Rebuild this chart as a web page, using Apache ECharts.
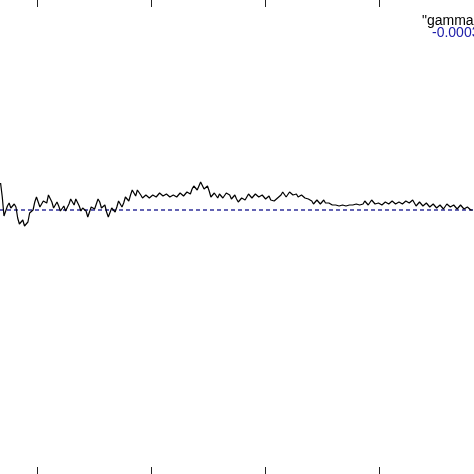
<!DOCTYPE html>
<html><head><meta charset="utf-8">
<script src="https://cdn.jsdelivr.net/npm/echarts@6/dist/echarts.min.js"></script>
<style>html,body{margin:0;padding:0;background:#fff}#c{width:474px;height:474px}</style>
</head><body><div id="c"></div>
<script>
// iterations: start and step of the sampled estimate
const xStart = 68, xStep = 1.5;
const gammaValues = [
0.0024,0.0010,-0.0009,-0.0008,0.0001,0.0004,-0.0001,-0.0003,0.0003,0.0000,
-0.0011,-0.0017,-0.0015,-0.0013,-0.0019,-0.0021,-0.0015,-0.0006,-0.0004,-0.0003,
0.0005,0.0010,0.0008,0.0000,0.0001,0.0006,0.0004,0.0004,0.0012,0.0012,
0.0005,-0.0001,0.0001,0.0005,0.0001,-0.0004,-0.0002,0.0001,-0.0004,-0.0004,
0.0003,0.0008,0.0005,0.0002,0.0008,0.0008,0.0001,-0.0004,-0.0001,0.0001,
-0.0004,-0.0010,-0.0008,0.0000,0.0001,-0.0002,0.0003,0.0008,0.0005,-0.0001,
0.0001,0.0002,-0.0005,-0.0010,-0.0008,-0.0001,-0.0002,-0.0005,0.0000,0.0006,
0.0004,0.0000,0.0004,0.0010,0.0008,0.0006,0.0012,0.0017,0.0014,0.0011,
0.0017,0.0016,0.0012,0.0009,0.0009,0.0012,0.0011,0.0009,0.0010,0.0012,
0.0011,0.0010,0.0012,0.0014,0.0012,0.0011,0.0012,0.0013,0.0013,0.0010,
0.0009,0.0012,0.0012,0.0010,0.0011,0.0014,0.0014,0.0011,0.0012,0.0015,
0.0014,0.0013,0.0018,0.0021,0.0019,0.0017,0.0021,0.0025,0.0023,0.0018,
0.0020,0.0021,0.0016,0.0010,0.0010,0.0014,0.0012,0.0009,0.0013,0.0014,
0.0009,0.0008,0.0014,0.0016,0.0012,0.0008,0.0010,0.0012,0.0008,0.0005,
0.0007,0.0009,0.0009,0.0007,0.0010,0.0013,0.0011,0.0009,0.0010,0.0013,
0.0012,0.0010,0.0010,0.0012,0.0010,0.0008,0.0010,0.0011,0.0007,0.0005,
0.0006,0.0008,0.0009,0.0010,0.0012,0.0015,0.0013,0.0010,0.0011,0.0015,
0.0014,0.0012,0.0012,0.0013,0.0010,0.0009,0.0012,0.0013,0.0009,0.0007,
0.0008,0.0009,0.0006,0.0003,0.0004,0.0007,0.0005,0.0003,0.0005,0.0007,
0.0004,0.0002,0.0004,0.0005,0.0002,0.0000,0.0002,0.0004,0.0001,-0.0001,
0.0002,0.0004,0.0001,0.0000,0.0002,0.0004,0.0002,0.0001,0.0003,0.0005,
0.0002,0.0001,0.0003,0.0006,0.0004,0.0002,0.0004,0.0007,0.0006,0.0003,
0.0003,0.0004,0.0003,0.0002,0.0003,0.0005,0.0004,0.0003,0.0004,0.0006,
0.0005,0.0003,0.0004,0.0005,0.0004,0.0003,0.0005,0.0006,0.0005,0.0004,
0.0005,0.0007,0.0004,0.0001,0.0003,0.0005,0.0003,0.0001,0.0003,0.0004,
0.0002,0.0000,0.0002,0.0003,0.0001,-0.0001,0.0001,0.0002,0.0000,-0.0002,
0.0000,0.0003,0.0002,0.0000,0.0001,0.0002,0.0000,-0.0002,0.0000,0.0002,
0.0000,-0.0002,-0.0001,0.0000,-0.0002,-0.0003,-0.0003
];
const refValue = -0.0003;
const xTicks = [100, 200, 300, 400];
const xRange = [67.5, 483.3];
const yRange = [-0.0267, 0.0207];
const legendLabels = ['"gamma_est"', '-0.000300'];

const gammaData = gammaValues.map((v, i) => [xStart + i * xStep, v]);
const refData = [[xRange[0], refValue], [xRange[1], refValue]];

const tickAxis = (pos) => ({
  type: 'value', position: pos, min: xRange[0], max: xRange[1],
  axisLine: {show: false, onZero: false}, splitLine: {show: false}, axisLabel: {show: false},
  axisTick: {show: true, inside: true, length: 7, customValues: xTicks,
    lineStyle: {color: '#222', width: 1}}
});

const chart = echarts.init(document.getElementById('c'), null, {renderer: 'canvas'});
chart.setOption({
  animation: false,
  backgroundColor: '#fff',
  grid: {left: 0, right: 0, top: 0, bottom: 0},
  xAxis: [tickAxis('bottom'), tickAxis('top')],
  yAxis: {type: 'value', min: yRange[0], max: yRange[1], show: false},
  series: [
    {type: 'line', data: refData, xAxisIndex: 0, symbol: 'none',
      lineStyle: {color: '#30309a', width: 1.3, type: [4, 3]}},
    {type: 'line', data: gammaData, xAxisIndex: 0, symbol: 'none',
      lineStyle: {color: '#000', width: 1.2}}
  ],
  graphic: [
    {type: 'text', left: 422, top: 14, style: {text: legendLabels[0], fill: '#000',
      font: '14px "Liberation Sans", Arial, sans-serif'}},
    {type: 'text', left: 432, top: 26, style: {text: legendLabels[1], fill: '#1a1aa8',
      font: '14px "Liberation Sans", Arial, sans-serif'}}
  ]
});
</script>
</body></html>
